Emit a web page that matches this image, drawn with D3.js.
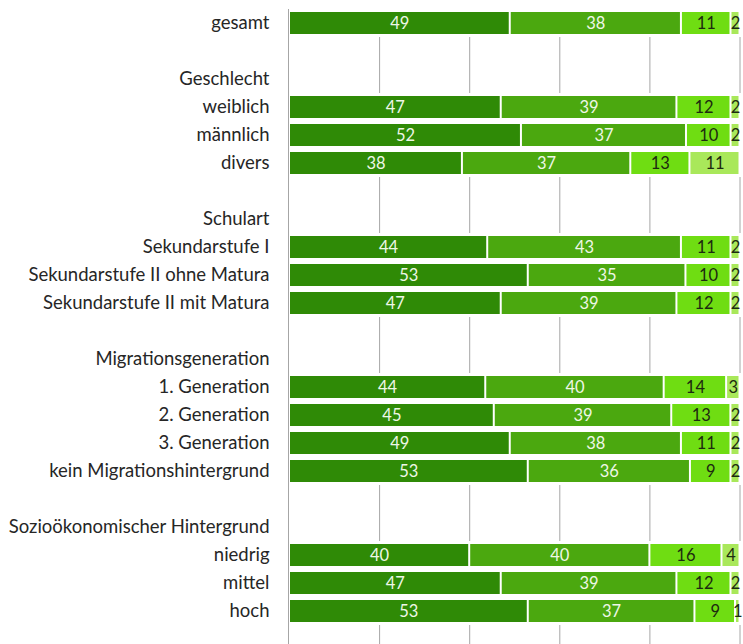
<!DOCTYPE html>
<html lang="de">
<head>
<meta charset="UTF-8">
<title>Anteile nach Gruppen</title>
<script src="https://d3js.org/d3.v7.min.js"></script>
<style>
    body { margin: 0; background: #fff; }
    svg { display: block; font-family: Lato, "Open Sans", sans-serif; }
    .row-label { fill: #262626; font-size: 18.5px; }
    .val { font-size: 16.5px; }
</style>
</head>
<body>
<div id="chart"></div>
<script>
// row labels (headers and blank spacer rows included, "" = blank)
const rowLabels = [
    "gesamt", "",
    "Geschlecht", "weiblich", "männlich", "divers", "",
    "Schulart", "Sekundarstufe I", "Sekundarstufe II ohne Matura", "Sekundarstufe II mit Matura", "",
    "Migrationsgeneration", "1. Generation", "2. Generation", "3. Generation", "kein Migrationshintergrund", "",
    "Sozioökonomischer Hintergrund", "niedrig", "mittel", "hoch", ""
];

// four stacked segments per row (null = no bar in that row)
const seg1 = [49, null, null, 47, 52, 38, null, null, 44, 53, 47, null, null, 44, 45, 49, 53, null, null, 40, 47, 53, null];
const seg2 = [38, null, null, 39, 37, 37, null, null, 43, 35, 39, null, null, 40, 39, 38, 36, null, null, 40, 39, 37, null];
const seg3 = [11, null, null, 12, 10, 13, null, null, 11, 10, 12, null, null, 14, 13, 11, 9, null, null, 16, 12, 9, null];
const seg4 = [2, null, null, 2, 2, 11, null, null, 2, 2, 2, null, null, 3, 2, 2, 2, null, null, 4, 2, 1, null];

const gridTicks = [20, 40, 60, 80, 100];

const segColors = ["#2f8a06", "#4ba80f", "#6fdd12", "#a9e85a"];
const textColors = ["#eef7e6", "#eef7e6", "#1d2a10", "#1d2a10"];

const width = 743, height = 644;

const svg = d3.select("#chart").append("svg")
    .attr("width", width)
    .attr("height", height);

const x = d3.scaleLinear().domain([0, 100]).range([289, 739.5]);
const y = d3.scaleBand().domain(d3.range(rowLabels.length)).range([9, 9 + 28 * rowLabels.length]);

const rows = rowLabels.map((label, i) => ({
    i, label,
    values: seg1[i] == null ? null : [seg1[i], seg2[i], seg3[i], seg4[i]]
}));
const barRows = rows.filter(d => d.values);

// vertical grid lines
svg.append("g")
    .selectAll("line")
    .data(gridTicks)
    .join("line")
    .attr("x1", d => x(d) + 0.5)
    .attr("x2", d => x(d) + 0.5)
    .attr("y1", 9)
    .attr("y2", height)
    .attr("stroke", "#a6a6a6")
    .attr("stroke-width", 1);

// white band behind each bar row hides the grid there
svg.append("g")
    .selectAll("rect")
    .data(barRows)
    .join("rect")
    .attr("x", x(0))
    .attr("width", width - x(0))
    .attr("y", d => y(d.i))
    .attr("height", y.bandwidth())
    .attr("fill", "#fff");

// stacked segments, rounded shares normalised so each row fills 100 %
const segs = barRows.flatMap(d => {
    const total = d3.sum(d.values);
    let cum = 0;
    return d.values.map((v, k) => {
        const s = { i: d.i, k, v, x0: cum / total * 100, x1: (cum + v) / total * 100 };
        cum += v;
        return s;
    });
});

svg.append("g")
    .selectAll("rect")
    .data(segs)
    .join("rect")
    .attr("x", d => x(d.x0) + 1)
    .attr("width", d => Math.max(0, x(d.x1) - x(d.x0) - 2))
    .attr("y", d => y(d.i) + 3)
    .attr("height", 22)
    .attr("fill", d => segColors[d.k]);

svg.append("g")
    .selectAll("text")
    .data(segs)
    .join("text")
    .attr("class", "val")
    .attr("x", d => (x(d.x0) + x(d.x1)) / 2 + 0.5)
    .attr("y", d => y(d.i) + y.bandwidth() / 2)
    .attr("dy", "0.36em")
    .attr("text-anchor", "middle")
    .attr("fill", d => textColors[d.k])
    .text(d => d.v);

// left axis line
svg.append("line")
    .attr("x1", x(0) - 0.5)
    .attr("x2", x(0) - 0.5)
    .attr("y1", 9)
    .attr("y2", height)
    .attr("stroke", "#a6a6a6");

// row labels
svg.append("g")
    .selectAll("text")
    .data(rows.filter(d => d.label))
    .join("text")
    .attr("class", "row-label")
    .attr("x", 269.5)
    .attr("y", d => y(d.i) + y.bandwidth() / 2)
    .attr("dy", "0.35em")
    .attr("text-anchor", "end")
    .text(d => d.label);
</script>
</body>
</html>
